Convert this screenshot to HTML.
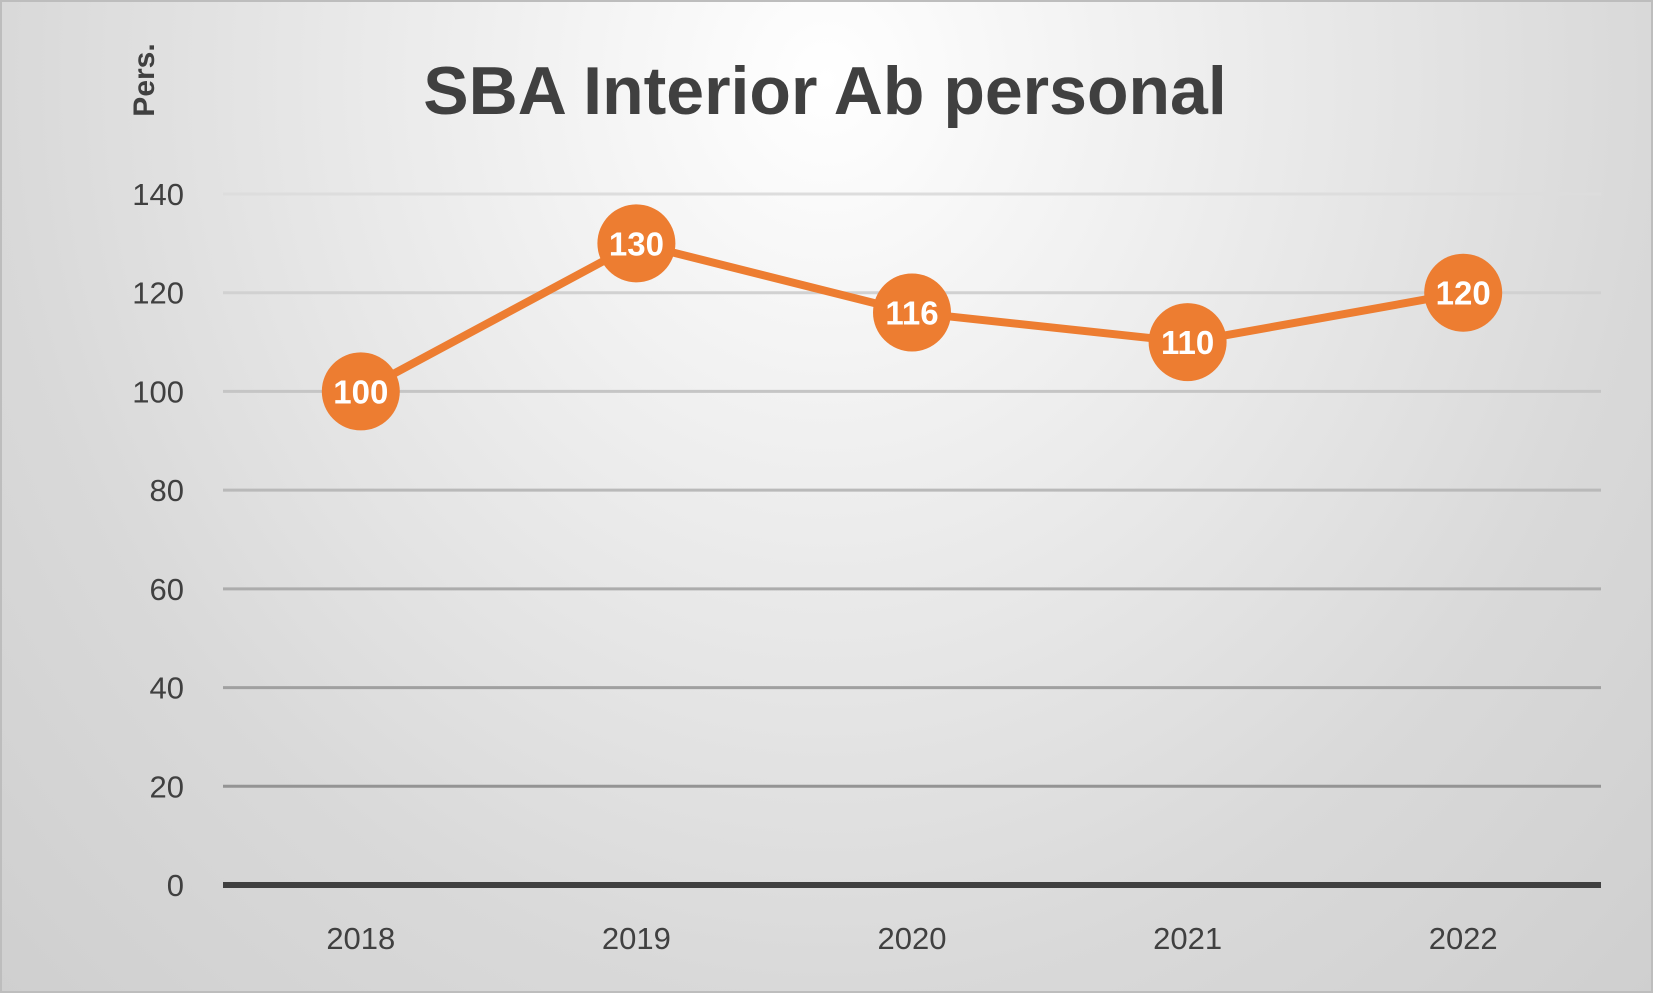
<!DOCTYPE html>
<html><head><meta charset="utf-8"><style>
html,body{margin:0;padding:0;width:1653px;height:993px;overflow:hidden}
body{background:radial-gradient(ellipse at 50% 8%,#ffffff 0%,#ececec 35%,#d9d9d9 70%,#cfcfcf 100%)}
svg{display:block;font-family:"Liberation Sans",sans-serif}
</style></head><body>
<svg width="1653" height="993">
<rect x="1" y="1" width="1651" height="991" fill="none" stroke="#bdbdbd" stroke-width="2"/>
<text x="825" y="114" text-anchor="middle" font-size="68" font-weight="bold" fill="#404040">SBA Interior Ab personal</text>
<text transform="translate(154,80) rotate(-90)" text-anchor="middle" font-size="30" font-weight="bold" fill="#404040">Pers.</text>
<g id="grid"></g><g id="series"></g>
</svg>
<script>
const categories=["2018","2019","2020","2021","2022"];
const values=[100,130,116,110,120];
const yTicks=[0,20,40,60,80,100,120,140];
const NS="http://www.w3.org/2000/svg";
const x0=223,x1=1601,yTop=194,yBot=885,yMax=140;
const bw=(x1-x0)/categories.length;
const X=i=>x0+bw*(i+0.5);
const Y=v=>yBot-(v/yMax)*(yBot-yTop);
const grid=document.getElementById('grid'),ser=document.getElementById('series');
function mk(t,a,p){const e=document.createElementNS(NS,t);for(const k in a)e.setAttribute(k,a[k]);p.appendChild(e);return e;}
yTicks.forEach(v=>{
 const gray=Math.round(0xdd-(140-v)/140*0x55);
 const l=mk('line',{x1:x0,x2:x1,y1:Y(v),y2:Y(v),stroke:v===0?'#404040':`rgb(${gray},${gray},${gray})`,'stroke-width':v===0?6:3},grid);
 
 
 const t=mk('text',{x:184,y:Y(v)+11,'text-anchor':'end','font-size':31,fill:'#404040'},grid);
 t.textContent=v;
 
 
});
categories.forEach((c,i)=>{
 const t=mk('text',{x:X(i),y:949,'text-anchor':'middle','font-size':31,fill:'#404040'},grid);
 t.textContent=c;
 
 
});
const pl=mk('polyline',{points:values.map((v,i)=>X(i)+','+Y(v)).join(' '),fill:'none',stroke:'#ed7d31','stroke-width':8,'stroke-linejoin':'round'},ser);


values.forEach((v,i)=>{
 const c=mk('circle',{cx:X(i),cy:Y(v),r:39,fill:'#ed7d31'},ser);
 
 
 const t=mk('text',{x:X(i),y:Y(v)+12,'text-anchor':'middle','font-size':33,'font-weight':'bold',fill:'#fff'},ser);
 t.textContent=v;
 
 
});
</script>
</body></html>
